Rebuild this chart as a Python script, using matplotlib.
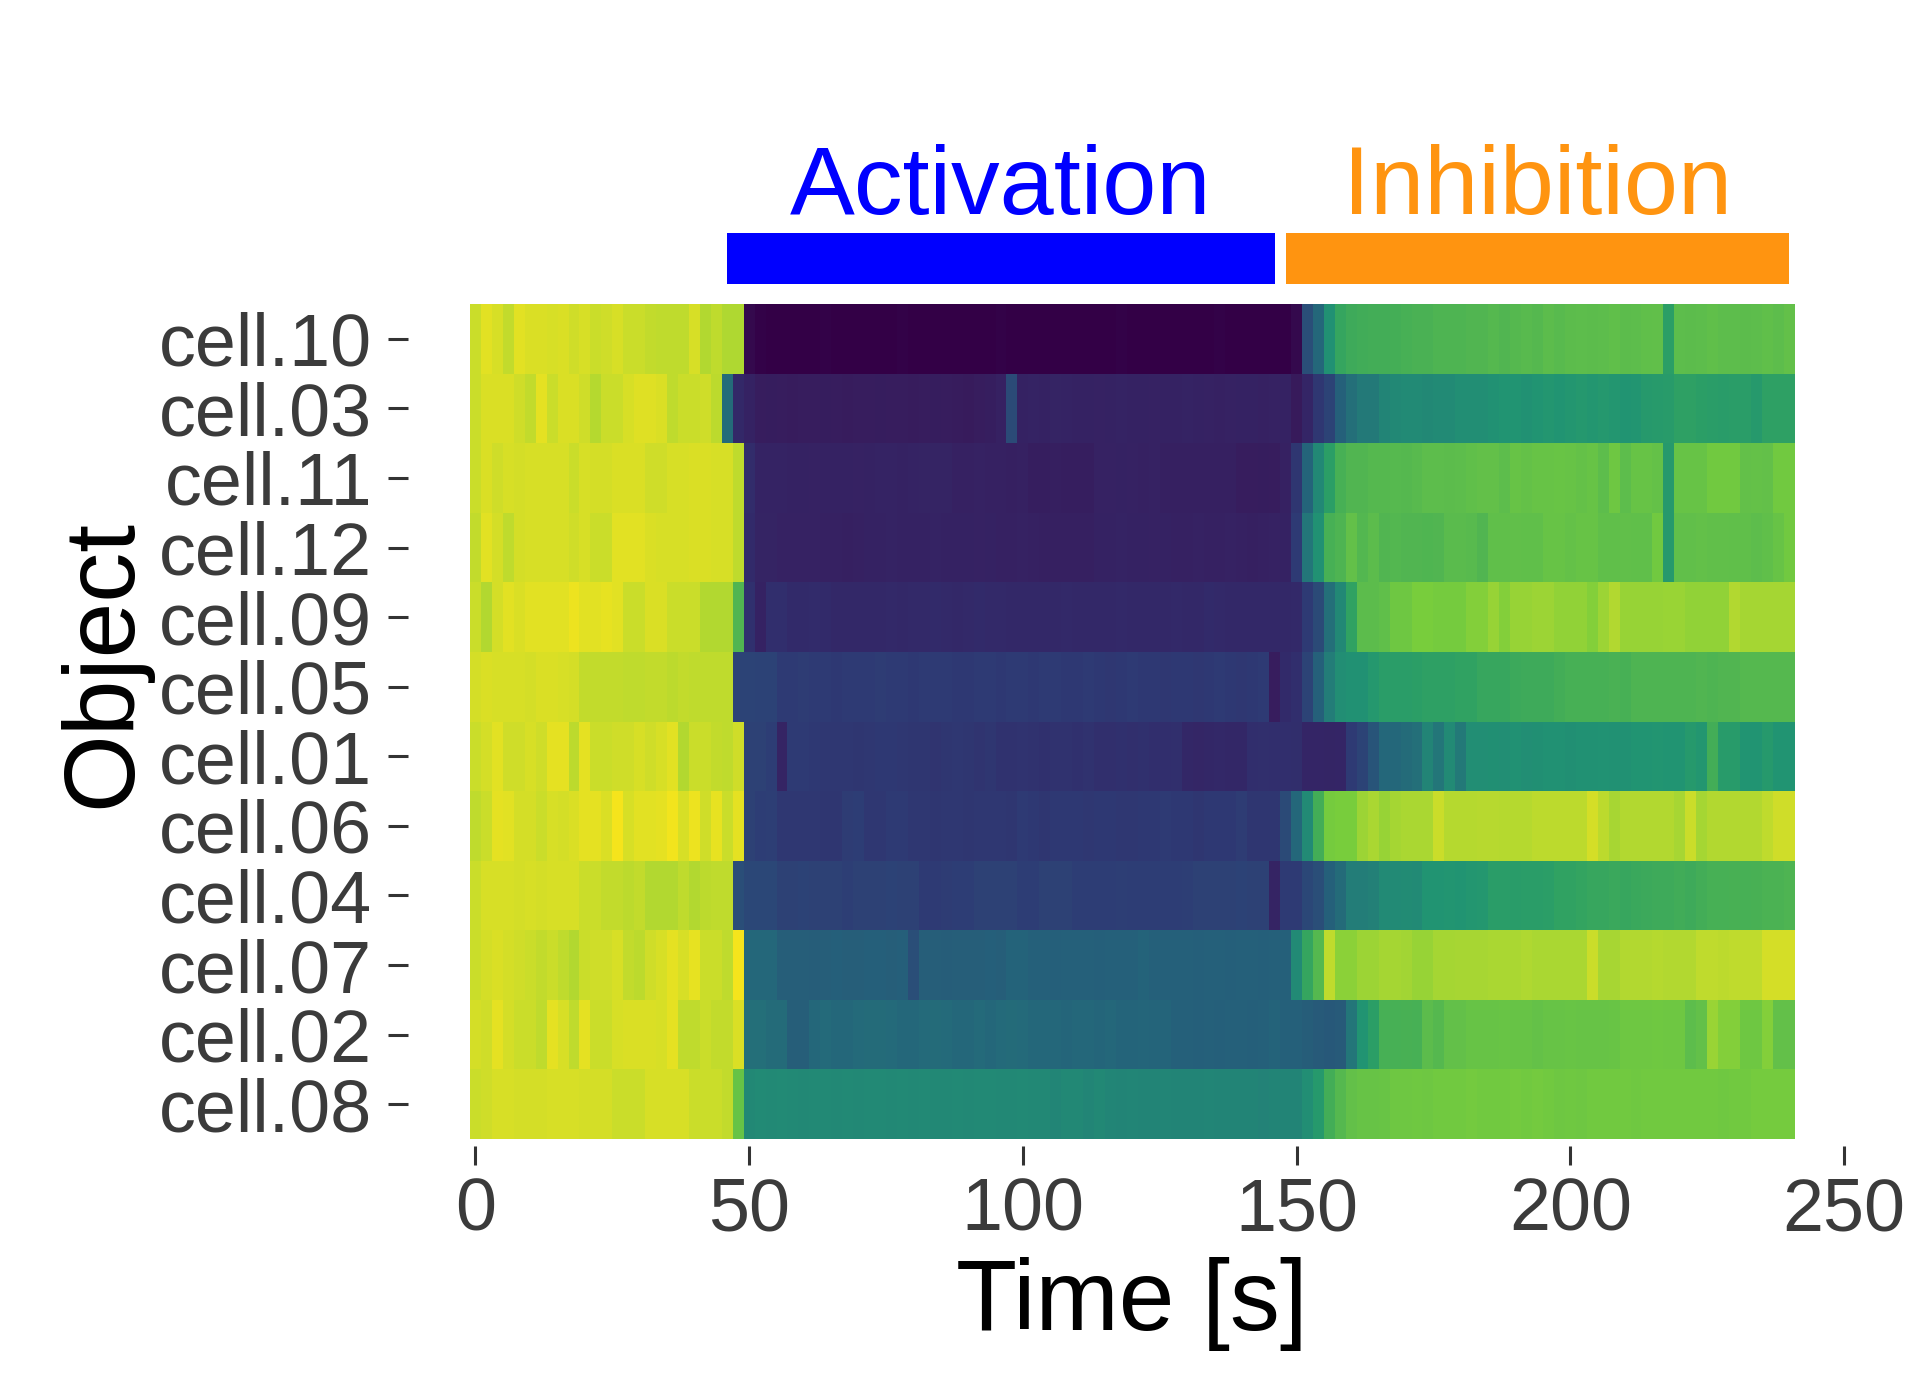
import numpy as np
import matplotlib
matplotlib.use("Agg")
import matplotlib.pyplot as plt
from matplotlib.colors import LinearSegmentedColormap
from matplotlib.patches import Rectangle
import matplotlib.transforms as mtransforms

plt.rcParams['font.family'] = ['Liberation Sans', 'DejaVu Sans']

# ---------------- data ----------------
cells = ["cell.10", "cell.03", "cell.11", "cell.12", "cell.09", "cell.05",
         "cell.01", "cell.06", "cell.04", "cell.07", "cell.02", "cell.08"]
times = np.arange(0, 241, 2)          # 121 frames, 2 s apart
x_ticks = [0, 50, 100, 150, 200, 250]

periods = ["Activation", "Inhibition"]
period_start = [46, 148]
period_end = [146, 240]
period_colors = ["#0000ff", "#ff9410"]

# colour scale (viridis-like, as rendered)
cmap_values = [0.0, 0.08, 0.14, 0.20, 0.27, 0.33, 0.40, 0.47, 0.54, 0.61,
               0.68, 0.75, 0.82, 0.89, 0.95, 1.0]
cmap_colors = ["#330046", "#37195a", "#362162", "#322a6a", "#2e3a74", "#2a4e78",
               "#24647a", "#237d78", "#219472", "#2da064", "#46af55", "#5fbe4b",
               "#78cd3c", "#aad732", "#d2de28", "#f5e41c"]

# normalised intensity per frame (0..1)
cell_10 = ([0.935, 0.97, 0.955, 0.925, 0.97, 0.96, 0.96, 0.955, 0.96, 0.945, 0.955, 0.935, 0.945,
            0.955, 0.935, 0.935, 0.925, 0.92, 0.92, 0.92, 0.955, 0.90, 0.92, 0.895, 0.895]
           + [0.03, 0.01, 0.0, 0.0, 0.0, 0.0, 0.0, 0.01, 0.0, 0.0,
              0.0, 0.0, 0.0, 0.0, 0.01, 0.0, 0.0, 0.0, 0.0, 0.0,
              0.0, 0.0, 0.0, 0.01, 0.0, 0.0, 0.0, 0.0, 0.0, 0.0,
              0.0, 0.0, 0.0, 0.0, 0.01, 0.0, 0.0, 0.0, 0.0, 0.0,
              0.0, 0.0, 0.0, 0.01, 0.0, 0.0, 0.0, 0.0, 0.0, 0.0,
              0.03, 0.33, 0.41, 0.53, 0.63]
           + [0.66, 0.665, 0.67, 0.67, 0.675, 0.68, 0.69, 0.69, 0.70, 0.70,
              0.70, 0.71, 0.71, 0.72, 0.71, 0.72, 0.73, 0.72, 0.74, 0.73,
              0.74, 0.745, 0.74, 0.745, 0.75, 0.74, 0.745, 0.75, 0.755, 0.60,
              0.745, 0.74, 0.745, 0.75, 0.745, 0.745, 0.74, 0.745, 0.75, 0.745,
              0.76])

cell_03 = ([0.935, 0.96, 0.96, 0.96, 0.945, 0.925, 0.975, 0.935, 0.96, 0.96, 0.945, 0.905, 0.935,
            0.935, 0.955, 0.965, 0.965, 0.96, 0.92, 0.935, 0.935, 0.945, 0.915, 0.42, 0.19]
           + [0.15]
           + [0.11, 0.115, 0.11, 0.105, 0.11, 0.11, 0.115, 0.11, 0.105, 0.11, 0.11, 0.115,
              0.11, 0.11, 0.105, 0.11, 0.115, 0.11, 0.105, 0.10, 0.11, 0.12, 0.14]
           + [0.32]
           + [0.15, 0.155, 0.15, 0.16, 0.155, 0.15, 0.15, 0.145, 0.15, 0.155, 0.15, 0.15, 0.145,
              0.15, 0.15, 0.155, 0.15, 0.145, 0.14, 0.145, 0.15, 0.15, 0.14, 0.145, 0.15]
           + [0.09, 0.17, 0.26, 0.30, 0.39]
           + [0.43, 0.46, 0.46, 0.49, 0.50, 0.51, 0.51, 0.50, 0.51, 0.51,
              0.52, 0.52, 0.52, 0.53, 0.54, 0.54, 0.53, 0.54, 0.55, 0.54,
              0.55, 0.56, 0.55, 0.56, 0.55, 0.54, 0.545, 0.57, 0.575, 0.58,
              0.61, 0.61, 0.60, 0.59, 0.585, 0.59, 0.59, 0.57, 0.61, 0.61,
              0.61])

cell_11 = ([0.935, 0.96, 0.945, 0.955, 0.95, 0.955, 0.955, 0.955, 0.955, 0.935, 0.955, 0.95, 0.95,
            0.96, 0.96, 0.96, 0.945, 0.945, 0.955, 0.955, 0.96, 0.96, 0.955, 0.955, 0.92]
           + [0.21]
           + [0.155, 0.155, 0.155, 0.15, 0.15, 0.145, 0.15, 0.15, 0.15, 0.145,
              0.15, 0.155, 0.155, 0.15, 0.155, 0.16, 0.16, 0.16, 0.14, 0.14,
              0.145, 0.14, 0.14, 0.135, 0.14, 0.12, 0.12, 0.125, 0.12, 0.12,
              0.12, 0.145, 0.145, 0.15, 0.145, 0.14, 0.145, 0.13, 0.13, 0.135,
              0.13, 0.13, 0.13, 0.135, 0.11, 0.11, 0.115, 0.11, 0.14]
           + [0.25, 0.40, 0.50, 0.60, 0.68]
           + [0.71, 0.71, 0.72, 0.72, 0.725, 0.72, 0.73, 0.745, 0.745, 0.74,
              0.745, 0.75, 0.76, 0.76, 0.745, 0.77, 0.765, 0.77, 0.77, 0.775,
              0.77, 0.765, 0.77, 0.745, 0.79, 0.745, 0.77, 0.77, 0.765, 0.57,
              0.77, 0.77, 0.77, 0.80, 0.80, 0.80, 0.76, 0.765, 0.76, 0.80,
              0.80])

cell_12 = ([0.925, 0.97, 0.95, 0.92, 0.95, 0.955, 0.955, 0.955, 0.955, 0.945, 0.955, 0.935, 0.935,
            0.97, 0.97, 0.97, 0.96, 0.955, 0.955, 0.955, 0.96, 0.96, 0.955, 0.955, 0.92]
           + [0.20]
           + [0.16, 0.16, 0.145, 0.145, 0.145, 0.145, 0.14, 0.14, 0.135, 0.14,
              0.15, 0.15, 0.155, 0.15, 0.15, 0.15, 0.155, 0.15, 0.15, 0.15,
              0.145, 0.15, 0.14, 0.14, 0.145, 0.14, 0.135, 0.135, 0.13, 0.135,
              0.135, 0.15, 0.15, 0.155, 0.15, 0.15, 0.145, 0.15, 0.14, 0.14,
              0.145, 0.14, 0.14, 0.145, 0.14, 0.135, 0.14, 0.145, 0.15]
           + [0.27, 0.45, 0.53, 0.68, 0.70]
           + [0.76, 0.715, 0.74, 0.71, 0.715, 0.71, 0.71, 0.705, 0.71, 0.735,
              0.735, 0.73, 0.71, 0.75, 0.75, 0.755, 0.75, 0.75, 0.77, 0.77,
              0.765, 0.77, 0.77, 0.75, 0.75, 0.755, 0.75, 0.75, 0.80, 0.57,
              0.755, 0.755, 0.76, 0.755, 0.755, 0.75, 0.75, 0.745, 0.75, 0.77,
              0.80])

cell_09 = ([0.935, 0.90, 0.95, 0.97, 0.96, 0.97, 0.97, 0.97, 0.97, 0.985, 0.97, 0.97, 0.98,
            0.97, 0.935, 0.935, 0.96, 0.96, 0.935, 0.935, 0.935, 0.90, 0.90, 0.90, 0.71]
           + [0.23, 0.15, 0.22, 0.22]
           + [0.20, 0.20, 0.205, 0.20, 0.19, 0.19, 0.185, 0.19, 0.19, 0.195,
              0.19, 0.195, 0.195, 0.20, 0.195, 0.19, 0.195, 0.20, 0.195, 0.195,
              0.19, 0.19, 0.185, 0.19, 0.19, 0.195, 0.19, 0.185, 0.19, 0.19,
              0.195, 0.19, 0.19, 0.185, 0.19, 0.195, 0.19, 0.19, 0.20, 0.195,
              0.19, 0.19, 0.185, 0.19, 0.19, 0.19, 0.195]
           + [0.27, 0.32, 0.43, 0.50]
           + [0.62, 0.74, 0.74, 0.75, 0.79, 0.79, 0.82, 0.82, 0.81, 0.81,
              0.81, 0.835, 0.835, 0.86, 0.835, 0.86, 0.86, 0.87, 0.87, 0.855,
              0.855, 0.855, 0.835, 0.87, 0.90, 0.86, 0.86, 0.86, 0.86, 0.865,
              0.865, 0.855, 0.855, 0.855, 0.855, 0.90, 0.88, 0.88, 0.88, 0.88,
              0.88])

cell_05 = ([0.95, 0.96, 0.955, 0.955, 0.955, 0.95, 0.96, 0.96, 0.955, 0.95, 0.925, 0.925, 0.925,
            0.925, 0.92, 0.92, 0.925, 0.925, 0.915, 0.925, 0.92, 0.92, 0.92, 0.92, 0.30]
           + [0.30, 0.295, 0.295]
           + [0.27, 0.27, 0.275, 0.27, 0.27, 0.265, 0.27, 0.27, 0.27, 0.275,
              0.27, 0.27, 0.265, 0.27, 0.27, 0.27, 0.265, 0.265, 0.27, 0.27,
              0.265, 0.27, 0.27, 0.265, 0.27, 0.27, 0.265, 0.265, 0.27, 0.265,
              0.26, 0.265, 0.27, 0.265, 0.265, 0.26, 0.265, 0.265, 0.26, 0.265,
              0.27, 0.265, 0.26, 0.265, 0.27]
           + [0.11, 0.20, 0.22, 0.30, 0.39, 0.47, 0.52]
           + [0.53, 0.53, 0.56, 0.59, 0.59, 0.59, 0.60, 0.61, 0.61, 0.61,
              0.62, 0.62, 0.64, 0.64, 0.64, 0.65, 0.66, 0.66, 0.66, 0.67,
              0.68, 0.68, 0.68, 0.68, 0.69, 0.68, 0.70, 0.70, 0.70, 0.70,
              0.70, 0.70, 0.71, 0.70, 0.71, 0.71, 0.72, 0.72, 0.72, 0.72,
              0.72])

cell_01 = ([0.935, 0.95, 0.97, 0.945, 0.945, 0.955, 0.945, 0.975, 0.975, 0.915, 0.975, 0.935, 0.935,
            0.945, 0.945, 0.955, 0.945, 0.955, 0.97, 0.90, 0.935, 0.935, 0.925, 0.92, 0.945]
           + [0.29, 0.29, 0.28, 0.16, 0.27, 0.27, 0.265, 0.255, 0.26, 0.255,
              0.25, 0.255, 0.265, 0.265, 0.26, 0.25, 0.25, 0.245, 0.25, 0.255,
              0.25, 0.245, 0.25, 0.235, 0.235, 0.24, 0.235, 0.23, 0.235, 0.235,
              0.23, 0.235, 0.225, 0.225, 0.23, 0.225, 0.23, 0.22, 0.22, 0.225,
              0.18, 0.175, 0.18, 0.185, 0.18, 0.18, 0.22, 0.225, 0.22, 0.22,
              0.215, 0.17, 0.17, 0.165, 0.17]
           + [0.27, 0.30, 0.35, 0.41, 0.41, 0.42, 0.43, 0.49, 0.45, 0.51,
              0.46, 0.52, 0.52, 0.525, 0.52, 0.53, 0.52, 0.525, 0.53, 0.53,
              0.525, 0.53, 0.53, 0.535, 0.53, 0.53, 0.54, 0.54, 0.545, 0.54,
              0.54, 0.57, 0.55, 0.67, 0.58, 0.58, 0.54, 0.54, 0.57, 0.54,
              0.54])

cell_06 = ([0.92, 0.935, 0.975, 0.97, 0.95, 0.95, 0.935, 0.955, 0.95, 0.96, 0.975, 0.975, 0.96,
            1.0, 0.955, 0.97, 0.97, 0.975, 0.995, 0.955, 0.985, 0.945, 0.98, 0.935, 0.975]
           + [0.29, 0.28, 0.285]
           + [0.26, 0.26, 0.255, 0.26, 0.25, 0.25, 0.275, 0.28, 0.26, 0.26,
              0.27, 0.27, 0.255, 0.255, 0.25, 0.255, 0.255, 0.25, 0.255, 0.255,
              0.255, 0.25, 0.27, 0.265, 0.25, 0.265, 0.265, 0.265, 0.26, 0.265,
              0.265, 0.255, 0.255, 0.265, 0.265, 0.27, 0.265, 0.265, 0.25, 0.265,
              0.265, 0.265, 0.275, 0.25, 0.25, 0.25]
           + [0.32, 0.41, 0.51, 0.67, 0.81, 0.82]
           + [0.82, 0.87, 0.89, 0.86, 0.88, 0.89, 0.89, 0.89, 0.935, 0.905,
              0.905, 0.905, 0.91, 0.91, 0.905, 0.905, 0.905, 0.915, 0.915, 0.915,
              0.915, 0.915, 0.95, 0.915, 0.885, 0.90, 0.90, 0.90, 0.90, 0.90,
              0.885, 0.935, 0.88, 0.90, 0.90, 0.90, 0.90, 0.90, 0.92, 0.945,
              0.945])

cell_04 = ([0.935, 0.955, 0.955, 0.955, 0.95, 0.955, 0.95, 0.955, 0.955, 0.955, 0.935, 0.935, 0.925,
            0.925, 0.915, 0.925, 0.90, 0.90, 0.90, 0.92, 0.90, 0.915, 0.92, 0.92, 0.33]
           + [0.31, 0.31, 0.31]
           + [0.29, 0.29, 0.295, 0.29, 0.29, 0.29, 0.285, 0.29, 0.29, 0.29,
              0.295, 0.29, 0.29, 0.27, 0.27, 0.275, 0.28, 0.28, 0.29, 0.29,
              0.29, 0.29, 0.28, 0.28, 0.29, 0.29, 0.29, 0.28, 0.28, 0.28,
              0.28, 0.285, 0.28, 0.28, 0.28, 0.28, 0.28, 0.285, 0.29, 0.29,
              0.29, 0.29, 0.295, 0.29, 0.29]
           + [0.16, 0.27, 0.27, 0.31, 0.33, 0.39, 0.42]
           + [0.47, 0.47, 0.48, 0.51, 0.51, 0.515, 0.51, 0.54, 0.54, 0.545,
              0.54, 0.55, 0.555, 0.59, 0.59, 0.585, 0.59, 0.59, 0.595, 0.62,
              0.62, 0.625, 0.64, 0.64, 0.645, 0.64, 0.645, 0.65, 0.66, 0.66,
              0.665, 0.66, 0.67, 0.68, 0.68, 0.685, 0.68, 0.685, 0.695, 0.695,
              0.70])

cell_07 = ([0.935, 0.95, 0.96, 0.95, 0.945, 0.935, 0.925, 0.935, 0.92, 0.90, 0.935, 0.945, 0.945,
            0.955, 0.925, 0.915, 0.945, 0.955, 0.975, 0.955, 0.98, 0.935, 0.935, 0.92, 1.0]
           + [0.41, 0.41, 0.41]
           + [0.38, 0.38, 0.38, 0.375, 0.38, 0.385, 0.38, 0.38, 0.385, 0.385, 0.38, 0.385]
           + [0.33]
           + [0.38, 0.38, 0.375, 0.38, 0.38, 0.38, 0.385, 0.38, 0.395, 0.395,
              0.39, 0.39, 0.385, 0.39, 0.39, 0.39, 0.385, 0.39, 0.39, 0.39,
              0.395, 0.39, 0.39, 0.39, 0.39, 0.385, 0.39, 0.39, 0.385, 0.39,
              0.39, 0.385, 0.39, 0.39]
           + [0.51, 0.63, 0.72, 0.92, 0.845]
           + [0.845, 0.87, 0.87, 0.88, 0.88, 0.875, 0.86, 0.86, 0.88, 0.88,
              0.885, 0.885, 0.885, 0.89, 0.89, 0.89, 0.895, 0.89, 0.89, 0.89,
              0.89, 0.89, 0.935, 0.885, 0.885, 0.90, 0.90, 0.90, 0.905, 0.90,
              0.90, 0.90, 0.92, 0.92, 0.915, 0.92, 0.92, 0.92, 0.95, 0.95,
              0.95])

cell_02 = ([0.95, 0.945, 0.975, 0.95, 0.935, 0.935, 0.92, 0.975, 0.955, 0.92, 0.975, 0.935, 0.935,
            0.955, 0.96, 0.96, 0.96, 0.955, 0.975, 0.92, 0.92, 0.935, 0.925, 0.925, 0.96]
           + [0.43, 0.43, 0.42, 0.42, 0.38, 0.38]
           + [0.41, 0.415, 0.41, 0.41, 0.415, 0.42, 0.42, 0.415, 0.41, 0.41,
              0.415, 0.42, 0.415, 0.41, 0.41, 0.415, 0.41, 0.415, 0.42, 0.415,
              0.41, 0.41, 0.41, 0.405, 0.41, 0.41, 0.405, 0.41, 0.40, 0.40,
              0.405, 0.40, 0.40, 0.39, 0.39, 0.385, 0.39, 0.385, 0.39, 0.39,
              0.385, 0.39, 0.395, 0.39]
           + [0.39, 0.375, 0.37, 0.36, 0.37]
           + [0.45, 0.54, 0.60, 0.68, 0.68, 0.685, 0.68, 0.74, 0.72, 0.76,
              0.76, 0.77, 0.77, 0.77, 0.775, 0.77, 0.77, 0.765, 0.77, 0.77,
              0.775, 0.77, 0.77, 0.77, 0.775, 0.79, 0.79, 0.79, 0.795, 0.79,
              0.79, 0.745, 0.76, 0.865, 0.835, 0.835, 0.79, 0.79, 0.835, 0.76,
              0.76])

cell_08 = ([0.935, 0.945, 0.955, 0.955, 0.95, 0.95, 0.95, 0.955, 0.955, 0.955, 0.95, 0.95, 0.95,
            0.935, 0.935, 0.935, 0.955, 0.955, 0.955, 0.955, 0.935, 0.935, 0.935, 0.925, 0.77]
           + [0.50, 0.51, 0.505, 0.51, 0.505, 0.50, 0.505, 0.505, 0.50, 0.505,
              0.50, 0.505, 0.505, 0.50, 0.505, 0.50, 0.505, 0.50, 0.50, 0.505,
              0.50, 0.505, 0.505, 0.50, 0.50, 0.505, 0.50, 0.50, 0.495, 0.50,
              0.50, 0.495, 0.50, 0.495, 0.49, 0.495, 0.49, 0.49, 0.495, 0.49,
              0.49, 0.49, 0.495, 0.49, 0.49, 0.49, 0.49, 0.485, 0.49, 0.49,
              0.49]
           + [0.52, 0.57, 0.67, 0.72]
           + [0.76, 0.77, 0.77, 0.775, 0.79, 0.79, 0.795, 0.79, 0.80, 0.80,
              0.80, 0.805, 0.80, 0.80, 0.80, 0.805, 0.80, 0.805, 0.80, 0.79,
              0.795, 0.79, 0.80, 0.80, 0.80, 0.80, 0.795, 0.80, 0.80, 0.80,
              0.80, 0.80, 0.80, 0.80, 0.795, 0.80, 0.80, 0.81, 0.81, 0.81,
              0.81])

rows = [cell_10, cell_03, cell_11, cell_12, cell_09, cell_05,
        cell_01, cell_06, cell_04, cell_07, cell_02, cell_08]

# ---------------- figure ----------------
W, H = 1920, 1400
fig = plt.figure(figsize=(W / 100, H / 100), dpi=100)
fig.patch.set_facecolor("white")

L, R, T, B = 470, 1844, 304, 1139           # panel box in pixels
ax = fig.add_axes([L / W, 1 - B / H, (R - L) / W, (B - T) / H])

cmap = LinearSegmentedColormap.from_list("viridis_like", list(zip(cmap_values, cmap_colors)))
Z = np.array(rows, dtype=float)
x_edges = np.append(times - 1, times[-1] + 1)
y_edges = np.arange(len(cells) + 1)
ax.pcolormesh(x_edges, y_edges, Z, cmap=cmap, vmin=0, vmax=1,
              shading="flat", antialiased=False, edgecolors="none")

ax.set_xlim(-1, 250)
ax.set_ylim(len(cells), 0)
ax.set_xticks(x_ticks)
ax.set_xticklabels([str(t) for t in x_ticks])
ax.set_yticks(np.arange(len(cells)) + 0.5)
ax.set_yticklabels(cells)

for s in ax.spines.values():
    s.set_visible(False)
ax.spines["bottom"].set_position(("outward", 5))
ax.spines["left"].set_position(("outward", 45))

tick_col = "#333333"
lab_col = "#3b3b3b"
ax.tick_params(axis="x", length=13.7, width=2.2, color=tick_col, pad=8.5,
               labelsize=53, labelcolor=lab_col)
ax.tick_params(axis="y", length=14.4, width=2.2, color=tick_col, pad=11,
               labelsize=53, labelcolor=lab_col)

ax.set_xlabel("Time [s]", fontsize=72, color="black")
ax.xaxis.set_label_coords((1132 - L) / (R - L), (B - 1330) / (B - T))
ax.xaxis.label.set_va("baseline")

ax.set_ylabel("Object", fontsize=72, color="black")
ax.yaxis.set_label_coords((130 - L) / (R - L), (B - 664) / (B - T))
ax.yaxis.label.set_va("baseline")

# top period bars
trans = mtransforms.blended_transform_factory(ax.transData, ax.transAxes)
bar_y0 = (B - 284) / (B - T)
bar_h = (284 - 233) / (B - T)
text_y = (B - 214) / (B - T)
for name, s, e, c in zip(periods, period_start, period_end, period_colors):
    ax.add_patch(Rectangle((s, bar_y0), e - s, bar_h, transform=trans,
                           facecolor=c, edgecolor="none", clip_on=False))
    ax.text((s + e) / 2, text_y, name, transform=trans, ha="center", va="baseline",
            fontsize=70, color=c, clip_on=False)

fig.savefig("out.png", dpi=100, facecolor="white")
